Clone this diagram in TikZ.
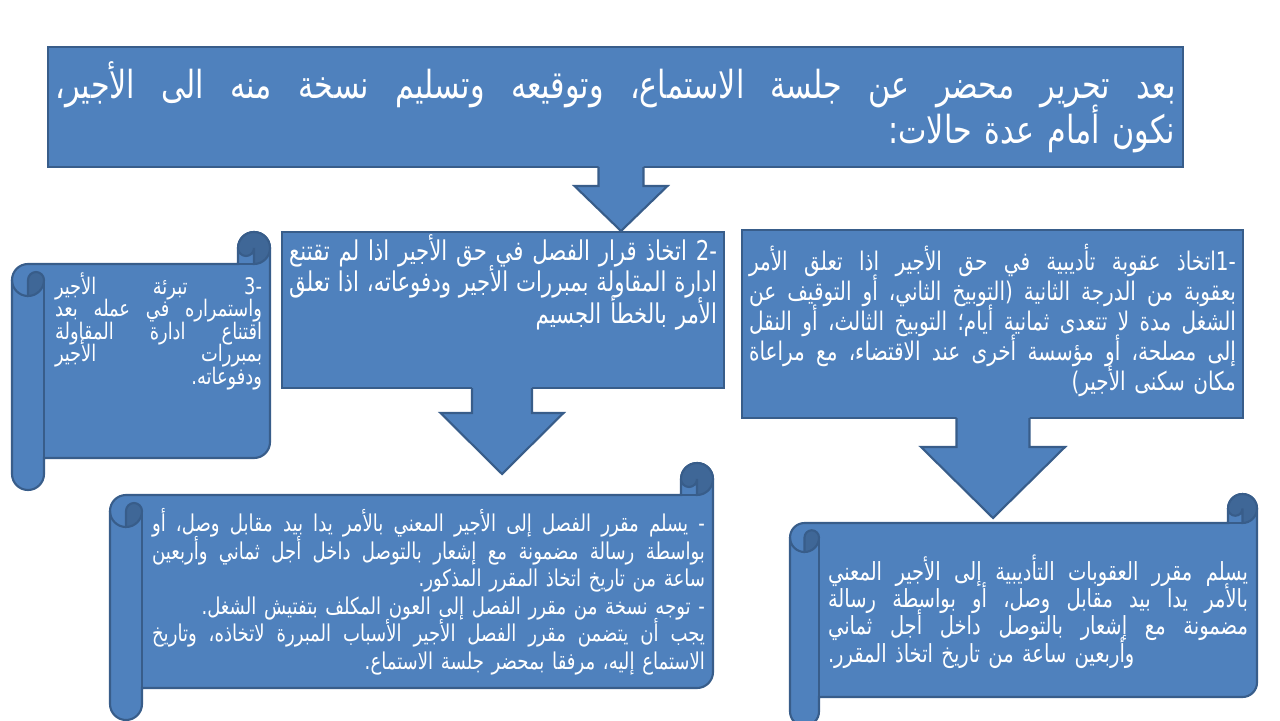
\documentclass[tikz,border=0pt]{standalone}
\usepackage{fontspec}
\usetikzlibrary{positioning}
\TeXXeTstate=1
\newfontfamily\arabicfont[Script=Arabic,FakeStretch=0.78]{DejaVu Sans}
\setlength{\parindent}{0pt}
\definecolor{boxblue}{HTML}{4F81BD}
\definecolor{edgeblue}{HTML}{385D8A}
\colorlet{curlblue}{boxblue!80!black}

\tikzset{
  panel/.style={draw=edgeblue,fill=boxblue,line width=1.2pt},
  curl/.style={draw=edgeblue,fill=curlblue,line width=1.2pt},
  rim/.style={draw=edgeblue,line width=1.2pt},
  txt/.style={text=white,inner sep=0pt,align=right}
}

% one justified line (spaces become \hfill), one line flush right, one flush left
\makeatletter
\long\def\ar@sep#1 #2\ar@end{#1\if\relax\detokenize{#2}\relax\else\hfill\ar@sep#2\ar@end\fi}
\newcommand{\jline}[1]{\leavevmode\hbox to\hsize{\ar@sep#1 \ar@end}}
\makeatother
\newcommand{\rline}[1]{\leavevmode\hbox{#1}}
\newcommand{\lline}[1]{\leavevmode\hbox to\hsize{#1\hfill}}
\newcommand{\arsize}[2]{\arabicfont\fontsize{#1}{#2}\selectfont\lineskiplimit=-20pt}

% scroll: left, top, right, bottom, roll size (pixels)
\newcommand{\scrollshape}[5]{%
  \pgfmathsetmacro{\rh}{#5/2}%
  \pgfmathsetmacro{\rq}{#5/4}%
  \filldraw[panel] (#1,#2+#5+\rh) arc[start angle=180,delta angle=90,radius=\rh]
    -- (#3-#5,#2+#5) -- (#3-#5,#2+\rh) arc[start angle=180,delta angle=180,radius=\rh]
    -- (#3,#4-#5-\rh) arc[start angle=0,delta angle=90,radius=\rh]
    -- (#1+#5,#4-#5) -- (#1+#5,#4-\rh) arc[start angle=0,delta angle=180,radius=\rh]
    -- cycle;
  % left curl
  \filldraw[curl] (#1+\rh,#2+2*#5) arc[start angle=90,delta angle=-90,radius=\rh]
    arc[start angle=0,delta angle=-180,radius=\rq] -- cycle;
  \draw[rim] (#1+\rh,#2+2*#5) arc[start angle=90,delta angle=90,radius=\rh];
  \draw[rim] (#1+#5,#2+#5+\rh) -- (#1+#5,#4-#5);
  % right curl
  \filldraw[curl] (#3-\rh,#2+#5) arc[start angle=90,delta angle=-270,radius=\rh]
    arc[start angle=180,delta angle=-180,radius=\rq] -- cycle;
  \draw[rim] (#3-#5,#2+#5) -- (#3-\rh,#2+#5);
}

% down block arrow: x centre, top, head base, tip, head half width, shaft half width
\newcommand{\blockdown}[6]{%
  \fill[boxblue] (#1-#6,#2-3) -- (#1-#6,#3) -- (#1-#5,#3) -- (#1,#4)
    -- (#1+#5,#3) -- (#1+#6,#3) -- (#1+#6,#2-3) -- cycle;
  \draw[rim] (#1-#6,#2) -- (#1-#6,#3) -- (#1-#5,#3) -- (#1,#4)
    -- (#1+#5,#3) -- (#1+#6,#3) -- (#1+#6,#2);
}

\begin{document}
\begin{tikzpicture}[x=0.02cm,y=-0.02cm]
\useasboundingbox (0,0) rectangle (1280,720);
\fill[white] (0,0) rectangle (1280,720);

% top statement
\node[panel,minimum width=22.7cm,minimum height=2.4cm,text width=22.4cm,inner sep=0.1cm,
  text=white,align=right,font=\arsize{22}{25.6}] (intro) at (615.5,107)
  {\jline{\beginR بعد تحرير محضر عن جلسة الاستماع، وتوقيعه وتسليم نسخة منه الى الأجير،\endR}\\
   \rline{\beginR نكون أمام عدة حالات:\endR}};

% case 1
\node[panel,minimum width=10.02cm,minimum height=3.76cm] (case1box) at (992.5,324) {};
\node[txt,text width=9.74cm,font=\arsize{14.6}{17},below=0.3cm of case1box.north] (case1)
  {\jline{\beginR\mbox{-1}اتخاذ عقوبة تأديبية في حق الأجير اذا تعلق الأمر\endR}\\
   \jline{\beginR بعقوبة من الدرجة الثانية (التوبيخ الثاني، أو التوقيف عن\endR}\\
   \jline{\beginR الشغل مدة لا تتعدى ثمانية أيام؛ التوبيخ الثالث، أو النقل\endR}\\
   \jline{\beginR إلى مصلحة، أو مؤسسة أخرى عند الاقتضاء، مع مراعاة\endR}\\
   \rline{\beginR مكان سكنى الأجير)\endR}};

% case 2
\node[panel,minimum width=8.84cm,minimum height=3.12cm] (case2box) at (503,310) {};
\node[txt,text width=8.56cm,font=\arsize{15.5}{17.9},below=0.06cm of case2box.north] (case2)
  {\jline{\beginR\mbox{-2} اتخاذ قرار الفصل في حق الأجير اذا لم تقتنع\endR}\\
   \jline{\beginR ادارة المقاولة بمبررات الأجير ودفوعاته، اذا تعلق\endR}\\
   \rline{\beginR الأمر بالخطأ الجسيم\endR}};

% case 3
\scrollshape{12}{232}{270}{490}{32}
\node[txt,text width=4.14cm,font=\arsize{13}{12.8},anchor=north] (case3) at (158.5,272)
  {\jline{\beginR\mbox{-3} تبرئة الأجير\endR}\\
   \jline{\beginR واستمراره في عمله بعد\endR}\\
   \jline{\beginR اقتناع ادارة المقاولة\endR}\\
   \jline{\beginR بمبررات الأجير\endR}\\
   \rline{\beginR ودفوعاته.\endR}};

% notification of dismissal
\scrollshape{110}{463}{713}{720}{32}
\node[txt,text width=11.06cm,font=\arsize{13.2}{15.7},anchor=north] (notice2) at (428.5,508)
  {\jline{\beginR - يسلم مقرر الفصل إلى الأجير المعني بالأمر يدا بيد مقابل وصل، أو\endR}\\
   \jline{\beginR بواسطة رسالة مضمونة مع إشعار بالتوصل داخل أجل ثماني وأربعين\endR}\\
   \rline{\beginR ساعة من تاريخ اتخاذ المقرر المذكور.\endR}\\
   \rline{\beginR - توجه نسخة من مقرر الفصل إلى العون المكلف بتفتيش الشغل.\endR}\\
   \jline{\beginR يجب أن يتضمن مقرر الفصل الأجير الأسباب المبررة لاتخاذه، وتاريخ\endR}\\
   \rline{\beginR الاستماع إليه، مرفقا بمحضر جلسة الاستماع.\endR}};

% notification of sanction
\scrollshape{790}{494}{1257}{726}{29}
\node[txt,text width=8.4cm,font=\arsize{14.2}{15.6},anchor=north] (notice1) at (1038,554)
  {\jline{\beginR يسلم مقرر العقوبات التأديبية إلى الأجير المعني\endR}\\
   \jline{\beginR بالأمر يدا بيد مقابل وصل، أو بواسطة رسالة\endR}\\
   \jline{\beginR مضمونة مع إشعار بالتوصل داخل أجل ثماني\endR}\\
   \lline{\beginR وأربعين ساعة من تاريخ اتخاذ المقرر.\endR}};

% block arrows
\blockdown{621}{167}{186}{231}{46.5}{22.5}
\blockdown{502}{388}{413}{474}{61.5}{30}
\blockdown{993}{418}{447}{518}{72}{36.5}
\end{tikzpicture}
\end{document}
